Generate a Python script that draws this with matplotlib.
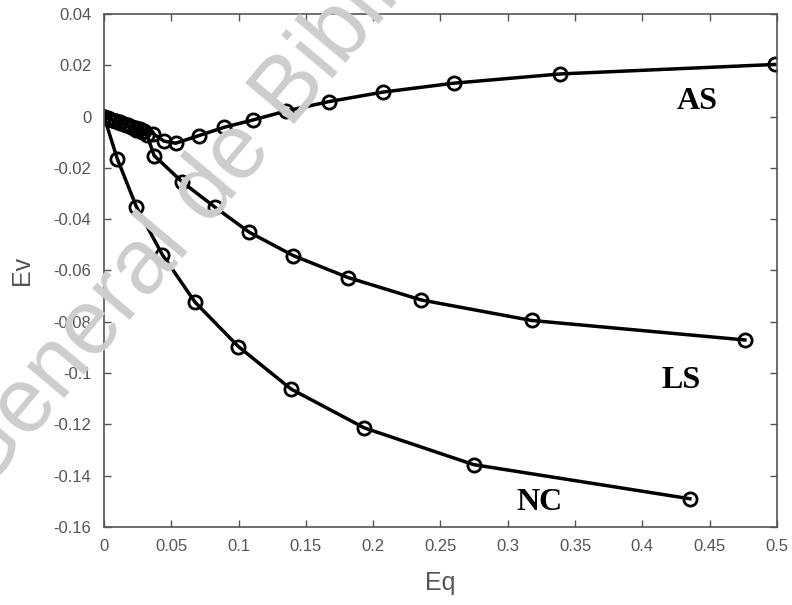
import matplotlib
matplotlib.use("Agg")
import matplotlib.pyplot as plt

# AS curve
as_x = [0, 0.003, 0.006, 0.009, 0.012, 0.015, 0.018, 0.021, 0.024, 0.027, 0.030,
        0.0367, 0.0446, 0.0533, 0.0707, 0.0893, 0.111, 0.135, 0.167, 0.207, 0.260, 0.339, 0.4985]
as_y = [0, -0.0006, -0.0012, -0.0017, -0.0023, -0.0028, -0.0034, -0.0039, -0.0045, -0.0050, -0.0055,
        -0.0067, -0.0096, -0.0104, -0.0074, -0.0042, -0.0013, 0.0021, 0.0058, 0.0095, 0.0130, 0.0166, 0.0203]

# LS curve
ls_x = [0, 0.004, 0.008, 0.012, 0.016, 0.020, 0.024, 0.028, 0.032,
        0.0372, 0.0583, 0.0826, 0.1079, 0.1406, 0.1815, 0.2356, 0.3177, 0.4762]
ls_y = [0, -0.0008, -0.0016, -0.0025, -0.0033, -0.0042, -0.0051, -0.0060, -0.0072,
        -0.0152, -0.0256, -0.0354, -0.0451, -0.0542, -0.0628, -0.0715, -0.0795, -0.0871]

# NC curve
nc_x = [0, 0.0099, 0.0240, 0.0434, 0.0677, 0.0999, 0.1389, 0.1935, 0.2746, 0.4353]
nc_y = [0, -0.0165, -0.0351, -0.0539, -0.0724, -0.0897, -0.1062, -0.1214, -0.1357, -0.1490]

xticks = [0, 0.05, 0.1, 0.15, 0.2, 0.25, 0.3, 0.35, 0.4, 0.45, 0.5]
xtick_labels = ['0', '0.05', '0.1', '0.15', '0.2', '0.25', '0.3', '0.35', '0.4', '0.45', '0.5']
yticks = [0.04, 0.02, 0, -0.02, -0.04, -0.06, -0.08, -0.1, -0.12, -0.14, -0.16]
ytick_labels = ['0.04', '0.02', '0', '-0.02', '-0.04', '-0.06', '-0.08', '-0.1', '-0.12', '-0.14', '-0.16']

plt.rcParams['font.family'] = ['Liberation Sans', 'DejaVu Sans']

fig = plt.figure(figsize=(7.92, 6.05), dpi=100)
ax = fig.add_axes([0.1313, 0.129, 0.8497, 0.848])

# faint watermark behind the data
fig.text(0.31, 0.76, 'General de Biblioteca', fontsize=66, color='#cdcdcd',
         rotation=50, ha='center', va='center', zorder=0)
ax.patch.set_alpha(0)

for xs, ys in [(as_x, as_y), (ls_x, ls_y), (nc_x, nc_y)]:
    ax.plot(xs, ys, color='black', lw=2.5, marker='o', markersize=9.5,
            markerfacecolor='none', markeredgewidth=2.0, markeredgecolor='black')

ax.text(0.4406, 0.0058, 'AS', fontsize=23, fontweight='bold', family='Liberation Serif',
        ha='center', va='center')
ax.text(0.4287, -0.1029, 'LS', fontsize=23, fontweight='bold', family='Liberation Serif',
        ha='center', va='center')
ax.text(0.3232, -0.1505, 'NC', fontsize=23, fontweight='bold', family='Liberation Serif',
        ha='center', va='center')

ax.set_xlim(0, 0.5)
ax.set_ylim(-0.16, 0.04)
ax.set_xticks(xticks)
ax.set_xticklabels(xtick_labels)
ax.set_yticks(yticks)
ax.set_yticklabels(ytick_labels)
ax.tick_params(direction='in', top=True, right=True, length=5, width=1,
               colors='#555555', labelsize=12, pad=9)
for s in ax.spines.values():
    s.set_color('#555555')
    s.set_linewidth(1.2)

ax.set_xlabel('Eq', fontsize=18, color='#555555', labelpad=12)
ax.set_ylabel('Ev', fontsize=18, color='#555555', labelpad=14)

fig.savefig('out.png', dpi=100)
